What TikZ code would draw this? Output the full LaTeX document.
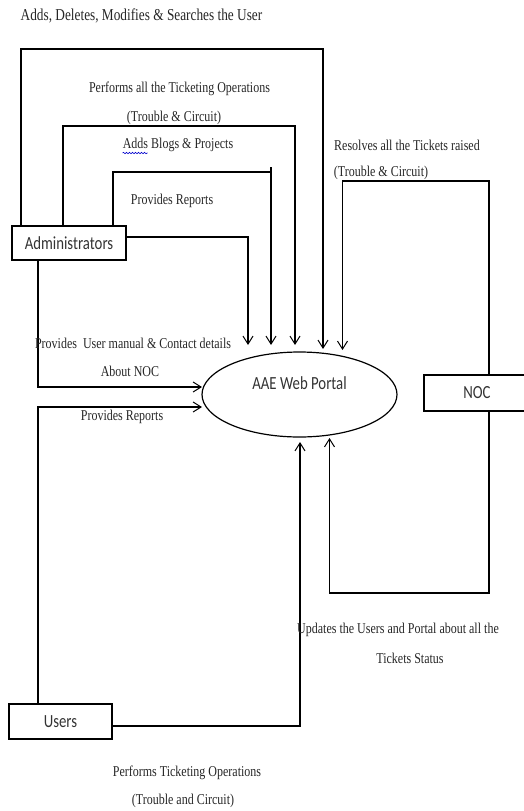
\documentclass[tikz,border=0pt]{standalone}
\usepackage{fontspec}
\setmainfont{Liberation Serif}
\newfontfamily\calibrifont{Carlito}
\usepackage{graphicx}
\usetikzlibrary{arrows.meta,shapes.geometric,decorations.pathmorphing}
\newcommand\vt[1]{\scalebox{1}[1.25]{#1}}
\begin{document}
\begin{tikzpicture}[x=1pt,y=-1pt,
  lbl/.style={inner sep=0pt, font=\fontsize{12}{14}\selectfont, text=black!85},
  ttl/.style={inner sep=0pt, font=\fontsize{13.3}{15}\selectfont, text=black!85},
  entity/.style={draw, line width=1.3pt, rectangle, inner sep=0pt,
    font=\calibrifont\fontsize{14.8}{16}\selectfont, text=black!80},
  flow/.style={line width=1.1pt, -{Straight Barb[length=8pt,width=10pt,line width=1pt]}},
  link/.style={line width=1.1pt}]
\useasboundingbox (0,0) rectangle (524,811);
\clip (0,0) rectangle (524,811);

% entities
\node[entity, minimum width=114pt, minimum height=34pt] (adm) at (69,243) {\vt{Administrators}};
\node[entity, minimum width=103pt, minimum height=35pt] (users) at (60.5,721.5) {\vt{Users}};
\node[entity, minimum width=106pt, minimum height=36pt] (noc) at (477,393) {\vt{NOC}};
\node[draw, ellipse, line width=1.2pt, minimum width=195pt, minimum height=85pt, inner sep=0pt,
  font=\calibrifont\fontsize{14.8}{16}\selectfont, text=black!80,
  text height=5pt, text depth=16pt] (portal) at (299.5,394.5) {\vt{AAE Web Portal}};

% connector points
\coordinate (k1) at (323,49);    \coordinate (h1) at (323,349);
\coordinate (k2) at (295,126);   \coordinate (h2) at (295,345);
\coordinate (k3) at (271,172);   \coordinate (s3) at (271,167);  \coordinate (h3) at (271,345);
\coordinate (h4) at (248,345);
\coordinate (h5) at (202,387);
\coordinate (h6) at (202,407);
\coordinate (h7) at (300,442);
\coordinate (k8) at (342.5,181); \coordinate (h8) at (342.5,350);
\coordinate (k9) at (329.5,593); \coordinate (h9) at (329.5,438);

% connectors
\draw[flow] ([xshift=-48pt]adm.north) |- (k1) -- (h1);
\draw[flow] ([xshift=-6pt]adm.north) |- (k2) -- (h2);
\draw[link] ([xshift=44pt]adm.north) |- (k3);
\draw[flow] (s3) -- (h3);
\draw[flow] ([yshift=6pt]adm.east) -| (h4);
\draw[flow] ([xshift=-31pt]adm.south) |- (h5);
\draw[flow] ([xshift=-22.5pt]users.north) |- (h6);
\draw[flow] ([yshift=-4.5pt]users.east) -| (h7);
\draw[flow] ([xshift=12pt]noc.north) |- (k8) -- (h8);
\draw[flow] ([xshift=12pt]noc.south) |- (k9) -- (h9);

% labels
\node[ttl] (lt) at (141.5,15.5) {\vt{Adds, Deletes, Modifies \& Searches the User}};
\node[lbl] (l2a) at (179.5,89) {\vt{Performs all the Ticketing Operations}};
\node[lbl] (l2b) at (174,118) {\vt{(Trouble \& Circuit)}};
\node[lbl] (l3) at (178,145) {\vt{Adds Blogs \& Projects}};
\draw[blue!80!black, line width=0.6pt, decorate, decoration={snake, amplitude=0.7pt, segment length=3pt}]
  ([yshift=-1pt]l3.south west) -- ([xshift=25pt,yshift=-1pt]l3.south west);
\node[lbl] (l4) at (172,201) {\vt{Provides Reports}};
\node[lbl] (l5a) at (133,343) {\vt{Provides\ \ User manual \& Contact details}};
\node[lbl] (l5b) at (130,371) {\vt{About NOC}};
\node[lbl] (l6) at (122,417) {\vt{Provides Reports}};
\node[lbl] (l8a) at (407,145) {\vt{Resolves all the Tickets raised}};
\node[lbl] (l8b) at (381,173) {\vt{(Trouble \& Circuit)}};
\node[lbl] (l9a) at (398,630) {\vt{Updates the Users and Portal about all the}};
\node[lbl] (l9b) at (410,658) {\vt{Tickets Status}};
\node[lbl] (l7a) at (187,773) {\vt{Performs Ticketing Operations}};
\node[lbl] (l7b) at (183,801) {\vt{(Trouble and Circuit)}};
\end{tikzpicture}
\end{document}
